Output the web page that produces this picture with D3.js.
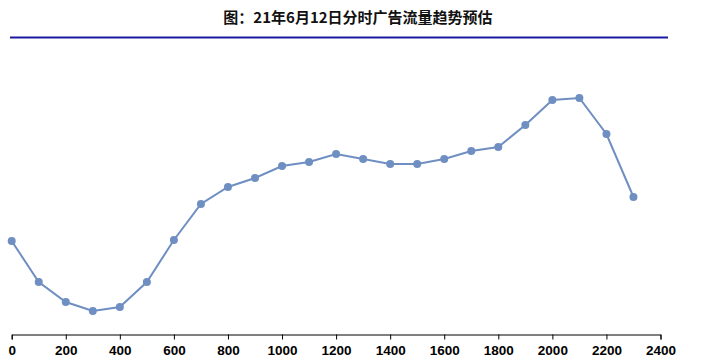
<!DOCTYPE html>
<html>
<head>
<meta charset="utf-8">
<script src="https://cdn.jsdelivr.net/npm/d3@7"></script>
<style>
  body { margin: 0; background: #fff; }
  svg { display: block; font-family: "Noto Sans CJK SC", "Liberation Sans", sans-serif; }
</style>
</head>
<body>
<div class="dgraph"></div>
<script>
// 分时 (hhmm) and estimated ad traffic (relative, no y axis in source)
var hours = [0,100,200,300,400,500,600,700,800,900,1000,1100,1200,1300,1400,1500,1600,1700,1800,1900,2000,2100,2200,2300];
var traffic = [94,53,33,24,28,53,95,131,148,157,169,173,181,176,171,171,176,184,188,210,235,237,201,138];
var xTicks = [0,200,400,600,800,1000,1200,1400,1600,1800,2000,2200,2400];
var title = "图：21年6月12日分时广告流量趋势预估";

var width = 718, height = 364;

var svg = d3.select("body .dgraph").append("svg")
    .attr("width", width).attr("height", height);

// title + rule under it
svg.append("text")
    .attr("x", 358).attr("y", 23)
    .attr("text-anchor", "middle")
    .style("font-size", "15px")
    .style("font-weight", "bold")
    .style("fill", "#111")
    .text(title);

svg.append("line")
    .attr("x1", 10).attr("x2", 668)
    .attr("y1", 37.5).attr("y2", 37.5)
    .attr("stroke", "#1a1aa0").attr("stroke-width", 2);

var x = d3.scaleLinear().domain([0, 2400]).range([11.7, 660.5]);
var y = d3.scaleLinear().domain([0, 300]).range([335, 35]);

var xAxis = d3.axisBottom(x)
    .tickValues(xTicks)
    .tickFormat(d3.format("d"))
    .tickSizeInner(5).tickSizeOuter(5).tickPadding(6);

var gx = svg.append("g")
    .attr("transform", "translate(0,334.5)")
    .call(xAxis);
gx.select(".domain").attr("stroke", "#000");
gx.selectAll(".tick line").attr("stroke", "#000");
gx.selectAll("text")
    .style("font-family", "'Liberation Sans', sans-serif")
    .style("font-size", "13.5px")
    .style("font-weight", "bold")
    .attr("fill", "#000");

var pts = hours.map(function(h, i){ return [h, traffic[i]]; });

var line = d3.line()
    .x(function(d){ return x(d[0]); })
    .y(function(d){ return y(d[1]); });

svg.append("path")
    .datum(pts)
    .attr("d", line)
    .attr("fill", "none")
    .attr("stroke", "#6f8fc2")
    .attr("stroke-width", 2);

svg.selectAll("circle.pt")
    .data(pts)
    .enter()
    .append("circle")
    .attr("class", "pt")
    .attr("cx", function(d){ return x(d[0]); })
    .attr("cy", function(d){ return y(d[1]); })
    .attr("r", 4)
    .attr("fill", "#6f8fc2");
</script>
</body>
</html>
